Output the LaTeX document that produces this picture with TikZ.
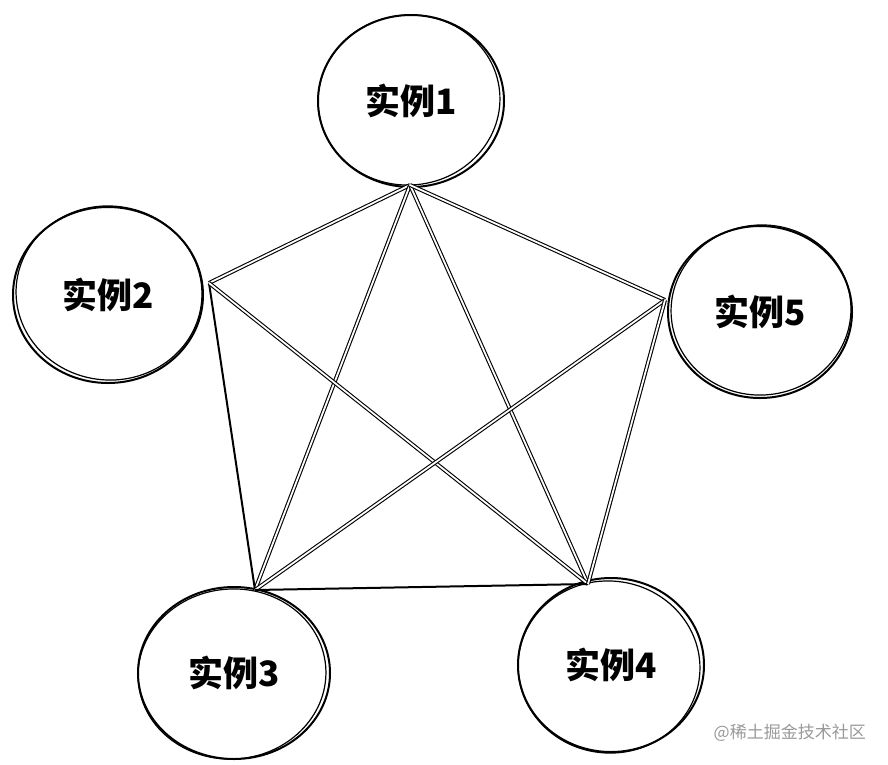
\documentclass[tikz,border=0pt]{standalone}
\usepackage{fontspec}
\newfontfamily\cjk{Noto Sans CJK SC}
\usetikzlibrary{shapes.geometric,calc}
\tikzset{
  inst/.style={ellipse, draw, line width=2pt, inner sep=0pt, font=\cjk\bfseries\fontsize{35}{38}\selectfont},
  sketch/.style={line width=1.2pt},
  dbl/.style={draw=black, line width=1.1pt, double=white, double distance=1.8pt},
  sgl/.style={draw=black, line width=2pt},
}
\begin{document}
\begin{tikzpicture}[x=1pt,y=-1pt]
\useasboundingbox[fill=white] (0,0) rectangle (888,764);
% circles
\node[inst, minimum width=186pt, minimum height=172pt] (c1) at (411,101) {实例1};
\node[inst, minimum width=190pt, minimum height=176pt] (c2) at (108,295) {实例2};
\node[inst, minimum width=192pt, minimum height=172pt] (c3) at (234,673) {实例3};
\node[inst, minimum width=186pt, minimum height=174pt] (c4) at (611,665) {实例4};
\node[inst, minimum width=184pt, minimum height=172pt] (c5) at (760,312) {实例5};
% second sketch strokes
\draw[sketch] ($(c1)+(-2,-1)$) ellipse [x radius=91, y radius=85, rotate=6];
\draw[sketch] ($(c2)+(1,-2)$) ellipse [x radius=93, y radius=87, rotate=-5];
\draw[sketch] ($(c3)+(-2,1)$) ellipse [x radius=94, y radius=85, rotate=5];
\draw[sketch] ($(c4)+(-2,2)$) ellipse [x radius=91, y radius=86, rotate=-6];
\draw[sketch] ($(c5)+(1,-2)$) ellipse [x radius=90, y radius=85, rotate=6];
% vertices
\coordinate (p1) at (410,185);
\coordinate (p2) at (209,283);
\coordinate (p3) at (255,590);
\coordinate (p4) at (588,584);
\coordinate (p5) at (665,300);
% connectors
\draw[dbl] (p1) -- (p2);
\draw[dbl] (p1) -- (p3);
\draw[dbl] (p1) -- (p4);
\draw[dbl] (p1) -- (p5);
\draw[sgl] (p2) -- (p3);
\draw[dbl] (p2) -- (p4);
\draw[dbl] (p3) -- (p5);
\draw[sgl] (p3) -- (p4);
\draw[dbl] (p4) -- (p5);
% watermark
\node[anchor=east, text=black!40, font=\cjk\fontsize{17}{20}\selectfont, inner sep=0pt] (wm) at (866,733) {@稀土掘金技术社区};
\end{tikzpicture}
\end{document}
